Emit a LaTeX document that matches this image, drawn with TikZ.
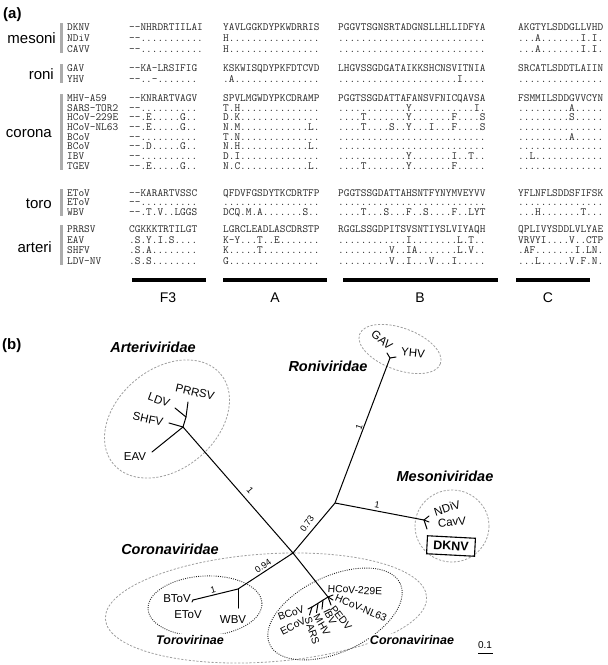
\documentclass[tikz,border=0pt]{standalone}
\usepackage{fontspec}
\setmainfont{Liberation Sans}
\newcommand\seqrow[6]{%
  \node[seq] (nm#1) at (67,#2+3.3) {#3};
  \node[seq] (fa#1) at (129,#2+3.3) {#4};
  \node[seq] (aa#1) at (223,#2+3.3) {#5};
  \node[seq] (bb#1) at (338,#2+3.3) {#6};
}
\newcommand\seqc[3]{\node[seq] (cc#1) at (518,#2+3.3) {#3};}
\begin{document}
\begin{tikzpicture}[x=1pt,y=-1pt,
  seq/.style={font=\fontsize{11}{11}\ttfamily, anchor=base west, inner sep=0pt, text=black!85},
  grp/.style={font=\fontsize{15}{15}\selectfont, anchor=east, inner sep=0pt},
  gbar/.style={draw=gray!65, line width=3pt},
  hbar/.style={line width=4pt},
  colh/.style={font=\fontsize{14}{14}\selectfont, inner sep=0pt},
  br/.style={line width=1pt, line cap=round},
  leaf/.style={font=\fontsize{11.5}{11.5}\selectfont, inner sep=0pt},
  cleaf/.style={font=\fontsize{10.3}{10.3}\selectfont, inner sep=0pt},
  fam/.style={font=\fontsize{14.5}{14.5}\selectfont\bfseries\itshape, inner sep=0pt},
  subf/.style={font=\fontsize{12.5}{12.5}\selectfont\bfseries\itshape, inner sep=1pt, fill=white},
  blab/.style={font=\fontsize{9}{9}\selectfont, inner sep=0pt},
  fdash/.style={draw=gray!75, dash pattern=on 2.2pt off 1.6pt, line width=0.8pt},
  fdot/.style={draw=black!85, line width=0.9pt, dash pattern=on 0.9pt off 1.3pt},
]
\useasboundingbox (0,0) rectangle (608,665);

% ---------- panel (a) ----------
\node[font=\fontsize{15}{15}\selectfont\bfseries, anchor=west, inner sep=0pt] (pa) at (3,15) {(a)};

\node[grp] (gmeso) at (56,38) {mesoni};
\node[grp] (groni) at (54,74) {roni};
\node[grp] (gcoro) at (52,134) {corona};
\node[grp] (gtoro) at (52,204) {toro};
\node[grp] (garte) at (52,247) {arteri};

\draw[gbar] (61.5,23) -- (61.5,53);
\draw[gbar] (61.5,64) -- (61.5,83);
\draw[gbar] (61.5,94) -- (61.5,170);
\draw[gbar] (61.5,189) -- (61.5,216);
\draw[gbar] (61.5,225) -- (61.5,265);

\seqrow{1}{27}{DKNV}{-{}-NHRDRTIILAI}{YAVLGGKDYPKWDRRIS}{PGGVTSGNSRTADGNSLLHLLIDFYA}
\seqc{1}{27}{AKGTYLSDDGLLVHD}
\seqrow{2}{38}{NDiV}{-{}-...........}{H................}{..........................}
\seqc{2}{38}{...A.......I.I.}
\seqrow{3}{49}{CAVV}{-{}-...........}{H................}{..........................}
\seqc{3}{49}{...A.......I.I.}
\seqrow{4}{68}{GAV}{-{}-KA-LRSIFIG}{KSKWISQDYPKFDTCVD}{LHGVSSGDGATAIKKSHCNSVITNIA}
\seqc{4}{68}{SRCATLSDDTLAIIN}
\seqrow{5}{79}{YHV}{-{}-..-.......}{.A...............}{.....................I....}
\seqc{5}{79}{...............}
\seqrow{6}{98}{MHV-A59}{-{}-KNRARTVAGV}{SPVLMGWDYPKCDRAMP}{PGGTSSGDATTAFANSVFNICQAVSA}
\seqc{6}{98}{FSMMILSDDGVVCYN}
\seqrow{7}{107.7}{SARS-TOR2}{-{}-..........}{T.H..............}{............Y...........I.}
\seqc{7}{107.7}{.........A.....}
\seqrow{8}{117.4}{HCoV-229E}{-{}-.E.....G..}{D.K..............}{....T.......Y.......F....S}
\seqc{8}{117.4}{.........S.....}
\seqrow{9}{127.1}{HCoV-NL63}{-{}-.E.....G..}{N.M............L.}{....T....S..Y...I...F....S}
\seqc{9}{127.1}{...............}
\seqrow{10}{136.8}{BCoV}{-{}-..........}{T.N..............}{..........................}
\seqc{10}{136.8}{.........A.....}
\seqrow{11}{146.5}{BCoV}{-{}-.D.....G..}{N.H............L.}{..........................}
\seqc{11}{146.5}{...............}
\seqrow{12}{156.2}{IBV}{-{}-..........}{D.I..............}{............Y.......I..T..}
\seqc{12}{156.2}{..L............}
\seqrow{13}{165.9}{TGEV}{-{}-.E.....G..}{N.C............L.}{....T.......Y.......F.....}
\seqc{13}{165.9}{...............}
\seqrow{14}{193}{EToV}{-{}-KARARTVSSC}{QFDVFGSDYTKCDRTFP}{PGGTSSGDATTAHSNTFYNYMVEYVV}
\seqc{14}{193}{YFLNFLSDDSFIFSK}
\seqrow{15}{202.5}{EToV}{-{}-..........}{.................}{..........................}
\seqc{15}{202.5}{...............}
\seqrow{16}{212}{WBV}{-{}-.T.V..LGGS}{DCQ.M.A.......S..}{....T...S...F..S....F..LYT}
\seqc{16}{212}{...H.......T...}
\seqrow{17}{229.5}{PRRSV}{CGKKKTRTILGT}{LGRCLEADLASCDRSTP}{RGGLSSGDPITSVSNTIYSLVIYAQH}
\seqc{17}{229.5}{QPLIVYSDDLVLYAE}
\seqrow{18}{240}{EAV}{.S.Y.I.S....}{K-Y...T..E.......}{............I........L.T..}
\seqc{18}{240}{VRVYI....V..CTP}
\seqrow{19}{250.5}{SHFV}{.S.A........}{K.....T..........}{.........V..IA.......L.V..}
\seqc{19}{250.5}{.AF.......I.LN.}
\seqrow{20}{261}{LDV-NV}{.S.S........}{G................}{.........V..I...V...I.....}
\seqc{20}{261}{...L.....V.F.N.}

\draw[hbar] (132,280) -- (206,280);
\draw[hbar] (223,280) -- (327,280);
\draw[hbar] (343,280) -- (498,280);
\draw[hbar] (516,280) -- (590,280);
\node[colh] (hF3) at (168,298) {F3};
\node[colh] (hA) at (275,298) {A};
\node[colh] (hB) at (420,298) {B};
\node[colh] (hC) at (548,298) {C};

% ---------- panel (b) ----------
\node[font=\fontsize{15}{15}\selectfont\bfseries, anchor=west, inner sep=0pt] (pb) at (2,346) {(b)};

% family ellipses
\draw[fdash, shift={(167,419)}, rotate=40] (0,0) ellipse [x radius=70, y radius=50];
\draw[fdash, shift={(400,349)}, rotate=-20] (0,0) ellipse [x radius=43, y radius=21];
\draw[fdash] (452,526) ellipse [x radius=37, y radius=36];
\draw[fdash, shift={(266,608)}, rotate=4] (0,0) ellipse [x radius=161, y radius=54];
\draw[fdot, shift={(205,606)}, rotate=3] (0,0) ellipse [x radius=57, y radius=30];
\draw[fdot, shift={(335,614)}, rotate=25] (0,0) ellipse [x radius=72, y radius=38];

% tree coordinates
\coordinate (A0) at (183,427);
\coordinate (A1) at (186,417);
\coordinate (Leav) at (152,452);
\coordinate (Lshfv) at (169,423);
\coordinate (Lldv) at (175,408);
\coordinate (Lprrsv) at (188,402);
\coordinate (C0) at (293,553);
\coordinate (M0) at (335,503);
\coordinate (R0) at (390,358);
\coordinate (F0) at (424,520);
\coordinate (T0) at (238,589);
\coordinate (Lbtov) at (193,600);
\coordinate (Lwbv) at (238,608);
\coordinate (H0) at (328,597);
\coordinate (H1) at (312,607);

% branches
\draw[br] (Leav) -- (A0) -- (A1) -- (Lprrsv);
\draw[br] (A1) -- (Lldv);
\draw[br] (Lshfv) -- (A0);
\draw[br] (A0) -- (C0) -- (H0);
\draw[br] (C0) -- (M0) -- (R0);
\draw[br] (M0) -- (F0);
\draw[br] (C0) -- (T0) -- (Lbtov);
\draw[br] (T0) -- (Lwbv);
\draw[br] (R0) -- ++(-3,-5);
\draw[br] (R0) -- ++(6,-1);
\draw[br] (F0) -- ++(5,-4);
\draw[br] (F0) -- ++(5,2);
\draw[br] (F0) -- ++(3,9);
\draw[br] (Lbtov) -- ++(-1,2);
\draw[br] (H0) -- ++(5,-2);
\draw[br] (H0) -- ++(5,3);
\draw[br] (H0) -- ++(3,8);
\draw[br] (H0) -- (H1);
\draw[br] (323,600) -- ++(-1,9);
\draw[br] (318,603.5) -- ++(-1.5,9);
\draw[br] (H1) -- ++(-2.5,8);
\draw[br] (H1) -- ++(-4,2);

% branch support labels
\node[blab, rotate=-49] (s1) at (250,490) {1};
\node[blab, rotate=55] (s2) at (307,524) {0.73};
\node[blab, rotate=70] (s3) at (359,427) {1};
\node[blab, rotate=-10] (s4) at (377,505) {1};
\node[blab, rotate=35] (s5) at (263,566) {0.94};
\node[blab, rotate=14] (s6) at (213,590) {1};

% leaf labels
\node[leaf, rotate=-13] (tPRRSV) at (195,392) {PRRSV};
\node[leaf, rotate=-20] (tLDV) at (159,400) {LDV};
\node[leaf, rotate=-12] (tSHFV) at (148,419) {SHFV};
\node[leaf] (tEAV) at (135,457) {EAV};
\node[leaf, rotate=-40] (tGAV) at (382,340) {GAV};
\node[leaf, rotate=-5] (tYHV) at (413,353) {YHV};
\node[leaf, rotate=18] (tNDiV) at (447,508) {NDiV};
\node[leaf, rotate=5] (tCavV) at (452,522) {CavV};
\node[draw, line width=1.1pt, font=\fontsize{12.5}{12.5}\selectfont\bfseries, rotate=-3, minimum width=48, minimum height=18, inner sep=0pt] (tDKNV) at (451,546) {DKNV};
\node[leaf] (tBToV) at (177,599) {BToV};
\node[leaf] (tEToV) at (188,615) {EToV};
\node[leaf] (tWBV) at (233,620) {WBV};
\node[cleaf, rotate=-3] (t229E) at (355,590) {HCoV-229E};
\node[cleaf, rotate=-23] (tNL63) at (361,608) {HCoV-NL63};
\node[cleaf, rotate=20] (tBCoV) at (291,613) {BCoV};
\node[cleaf, rotate=27] (tECoV) at (293,626) {ECoV};
\node[cleaf, rotate=-72] (tSARS) at (312,631) {SARS};
\node[cleaf, rotate=-60] (tMHV) at (322,625) {MHV};
\node[cleaf, rotate=-63] (tIBV) at (330,617) {IBV};
\node[cleaf, rotate=-52] (tPEDV) at (341,618) {PEDV};

% family labels
\node[fam] (fArt) at (153,347) {Arteriviridae};
\node[fam] (fRon) at (328,366) {Roniviridae};
\node[fam] (fMes) at (445,476) {Mesoniviridae};
\node[fam] (fCor) at (170,549) {Coronaviridae};
\node[subf] (fTor) at (190,640) {Torovirinae};
\node[subf] (fCvi) at (412,640) {Coronavirinae};

% scale bar
\draw[line width=0.7pt] (478,653) -- (493,653);
\node[blab, font=\fontsize{10}{10}\selectfont] (scl) at (485,645) {0.1};
\end{tikzpicture}
\end{document}
